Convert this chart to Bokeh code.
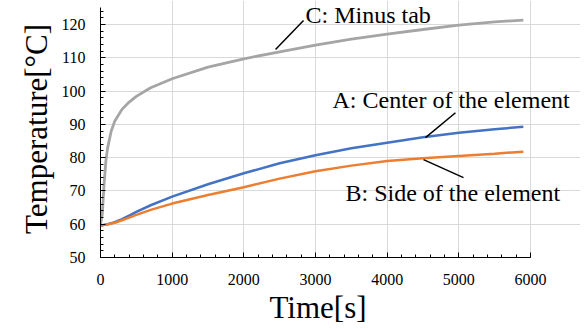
from bokeh.plotting import figure
from bokeh.models import Label, FixedTicker, Range1d, Title
from bokeh.embed import file_html
from bokeh.resources import INLINE

# ---- data ----
time_s = [0, 25, 50, 75, 100, 150, 200, 300, 400, 500, 700, 1000, 1500, 2000,
          2500, 3000, 3500, 4000, 4500, 5000, 5500, 5900]
temp_A = [59.6, 59.7, 59.8, 59.9, 60.0, 60.3, 60.6, 61.5, 62.6, 63.7, 65.7, 68.3, 72.0, 75.3,
          78.3, 80.7, 82.8, 84.5, 86.1, 87.5, 88.5, 89.3]
temp_B = [59.6, 59.7, 59.8, 59.9, 60.0, 60.2, 60.4, 61.2, 62.0, 62.8, 64.3, 66.2, 68.8, 71.1,
          73.7, 75.9, 77.6, 79.0, 79.8, 80.5, 81.2, 81.8]
temp_C = [60.0, 63.0, 72.0, 79.0, 83.0, 88.0, 91.0, 94.5, 96.7, 98.4, 101.0, 103.7, 107.2, 109.7,
          111.8, 113.8, 115.6, 117.1, 118.5, 119.8, 120.8, 121.3]

x_ticks = [0, 1000, 2000, 3000, 4000, 5000, 6000]
y_ticks = [50, 60, 70, 80, 90, 100, 110, 120]

x_title = "Time[s]"
y_title = "Temperature[°C]"

label_texts = ["C: Minus tab", "A: Center of the element", "B: Side of the element"]
label_x = [2860, 3237, 3419]
label_y = [123.0, 97.2, 69.5]
leader_x0 = [2833, 4953, 4507]
leader_y0 = [121.2, 93.5, 79.4]
leader_x1 = [2442, 4535, 5065]
leader_y1 = [112.5, 86.0, 74.0]

FONT = "Liberation Serif"

# frame: x=0 at px 100, x=6000 at px 530; y=50 at px 257, y=120 at px 24
X_MAX = 6000 * (580 - 100) / 430.0
Y_MAX = 120 + 24 * 70 / 233.0

p = figure(width=587, height=329, output_backend="svg", toolbar_location=None,
           x_range=Range1d(0, X_MAX), y_range=Range1d(50, Y_MAX),
           min_border_left=100, min_border_right=7, min_border_top=0, min_border_bottom=72)
p.outline_line_color = None
p.background_fill_color = "white"

p.line(time_s, temp_A, line_color="#4472C4", line_width=2.5)
p.line(time_s, temp_B, line_color="#ED7D31", line_width=2.5)
p.line(time_s, temp_C, line_color="#A5A5A5", line_width=2.8)

p.segment(x0=leader_x0, y0=leader_y0, x1=leader_x1, y1=leader_y1,
          line_color="black", line_width=1.5)

for t, x, y in zip(label_texts, label_x, label_y):
    p.add_layout(Label(x=x, y=y, text=t, text_font=FONT, text_font_size="24px",
                       text_font_style="normal",
                       text_baseline="middle", text_align="left", text_color="black"))

for ax in (p.xaxis[0], p.yaxis[0]):
    ax.axis_line_color = "black"
    ax.axis_line_width = 1
    ax.major_tick_in = 5
    ax.major_tick_out = 0
    ax.minor_tick_in = 3
    ax.minor_tick_out = 0
    ax.major_tick_line_color = "black"
    ax.minor_tick_line_color = "black"
    ax.major_label_text_font = FONT
    ax.major_label_text_font_size = "16px"
    ax.major_label_text_font_style = "normal"
    ax.major_label_text_color = "black"

p.xaxis[0].bounds = (0, 6000)
p.yaxis[0].bounds = (50, 125)
p.xaxis[0].ticker = FixedTicker(ticks=x_ticks, minor_ticks=list(range(0, 6001, 200)))
p.yaxis[0].ticker = FixedTicker(ticks=y_ticks, minor_ticks=list(range(50, 125, 2)))
p.xaxis.major_label_standoff = 16
p.yaxis.major_label_standoff = 15

# axis titles: x title centred under the 0..6000 axis, not under the wider frame
p.add_layout(Title(text=x_title, text_font=FONT, text_font_size="31px",
                   text_font_style="normal", text_color="black",
                   align="left", offset=169, standoff=0), "below")
p.add_layout(Title(text=y_title, text_font=FONT, text_font_size="31px",
                   text_font_style="normal", text_color="black",
                   align="center", standoff=10), "left")

p.xgrid.ticker = FixedTicker(ticks=x_ticks)
p.ygrid.ticker = FixedTicker(ticks=y_ticks)
p.xgrid.bounds = (50, 125)
p.ygrid.bounds = (0, 6000)
p.grid.grid_line_color = "#D9D9D9"
p.grid.grid_line_width = 1

open("out.html", "w").write(file_html(p, INLINE))
